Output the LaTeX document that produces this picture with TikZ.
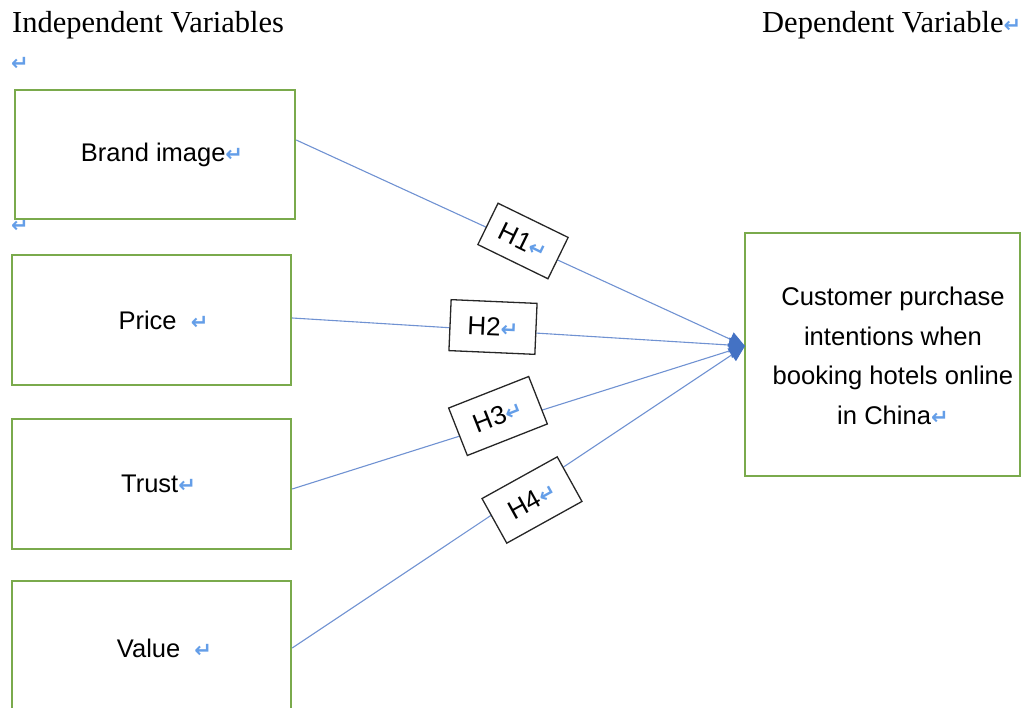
\documentclass[tikz,border=0pt]{standalone}
\usepackage{fontspec}
\setmainfont{Liberation Serif}
\setsansfont{Liberation Sans}
\newfontfamily\symf{DejaVu Sans}
\usetikzlibrary{arrows.meta}
\definecolor{boxgreen}{RGB}{122,170,76}
\definecolor{linkblue}{RGB}{112,146,210}
\definecolor{arrowblue}{RGB}{68,114,196}
\definecolor{markblue}{RGB}{100,158,232}
\newcommand{\retmark}{{\symf\bfseries\color{markblue}\fontsize{21}{21}\selectfont ↵}}
\tikzset{
  varbox/.style={draw=boxgreen, line width=2.4pt, fill=white, inner sep=0pt,
    font=\sffamily\fontsize{25.5}{30}\selectfont, align=center},
  link/.style={draw=linkblue, line width=1.1pt, -{Triangle[length=16pt,width=15pt,color=arrowblue]}},
  hbox/.style={draw=black!85, line width=1.3pt, fill=white, minimum width=86pt, minimum height=51pt,
    inner sep=0pt, font=\sffamily\fontsize{26}{28}\selectfont},
  headtext/.style={font=\fontsize{30.5}{34}\selectfont, anchor=base west, inner sep=0pt},
  retnode/.style={inner sep=0pt, anchor=base west}
}
\begin{document}
\begin{tikzpicture}[x=1pt,y=-1pt]
\useasboundingbox (0,0) rectangle (1021,708);
\clip (0,0) rectangle (1021,708);
% headers
\node[headtext] (indep) at (12,33) {Independent Variables};
\node[headtext] (dep) at (762,33) {Dependent Variable\retmark};
\node[retnode] (m1) at (11,71) {\retmark};
\node[retnode] (m2) at (11,233) {\retmark};
% left boxes
\node[varbox, minimum width=280pt, minimum height=129pt] (brand) at (155,154.5) {\hspace*{14pt}Brand image\retmark};
\node[varbox, minimum width=279pt, minimum height=130pt] (price) at (151.5,320) {\hspace*{24pt}Price\ \ \retmark};
\node[varbox, minimum width=279pt, minimum height=130pt] (trust) at (151.5,484) {\hspace*{14pt}Trust\retmark};
\node[varbox, minimum width=279pt, minimum height=134pt] (value) at (151.5,648) {\hspace*{26pt}Value\ \ \retmark};
% right box
\node[varbox, minimum width=275pt, minimum height=243pt] (target) at (882.5,354.5) {};
\node[inner sep=0pt, align=center, font=\sffamily\fontsize{25.6}{39.5}\selectfont] (targettext) at (893,356)
  {Customer purchase\\intentions when\\booking hotels online\\in China\retmark};
\coordinate (tip) at (745,346);
% connectors
\draw[link] ([yshift=14.5pt]brand.east) -- (tip);
\draw[link] ([yshift=2pt]price.east) -- (tip);
\draw[link] ([yshift=-5pt]trust.east) -- (tip);
\draw[link] (value.east) -- (tip);
% hypothesis labels
\node[hbox, minimum width=78pt, minimum height=46pt, rotate=-26] (h1) at (523,241) {H1\retmark};
\node[hbox, rotate=-2.5] (h2) at (493,327) {H2\retmark};
\node[hbox, rotate=21.5] (h3) at (498,416) {H3\retmark};
\node[hbox, rotate=29] (h4) at (532,500) {H4\retmark};
\end{tikzpicture}
\end{document}
